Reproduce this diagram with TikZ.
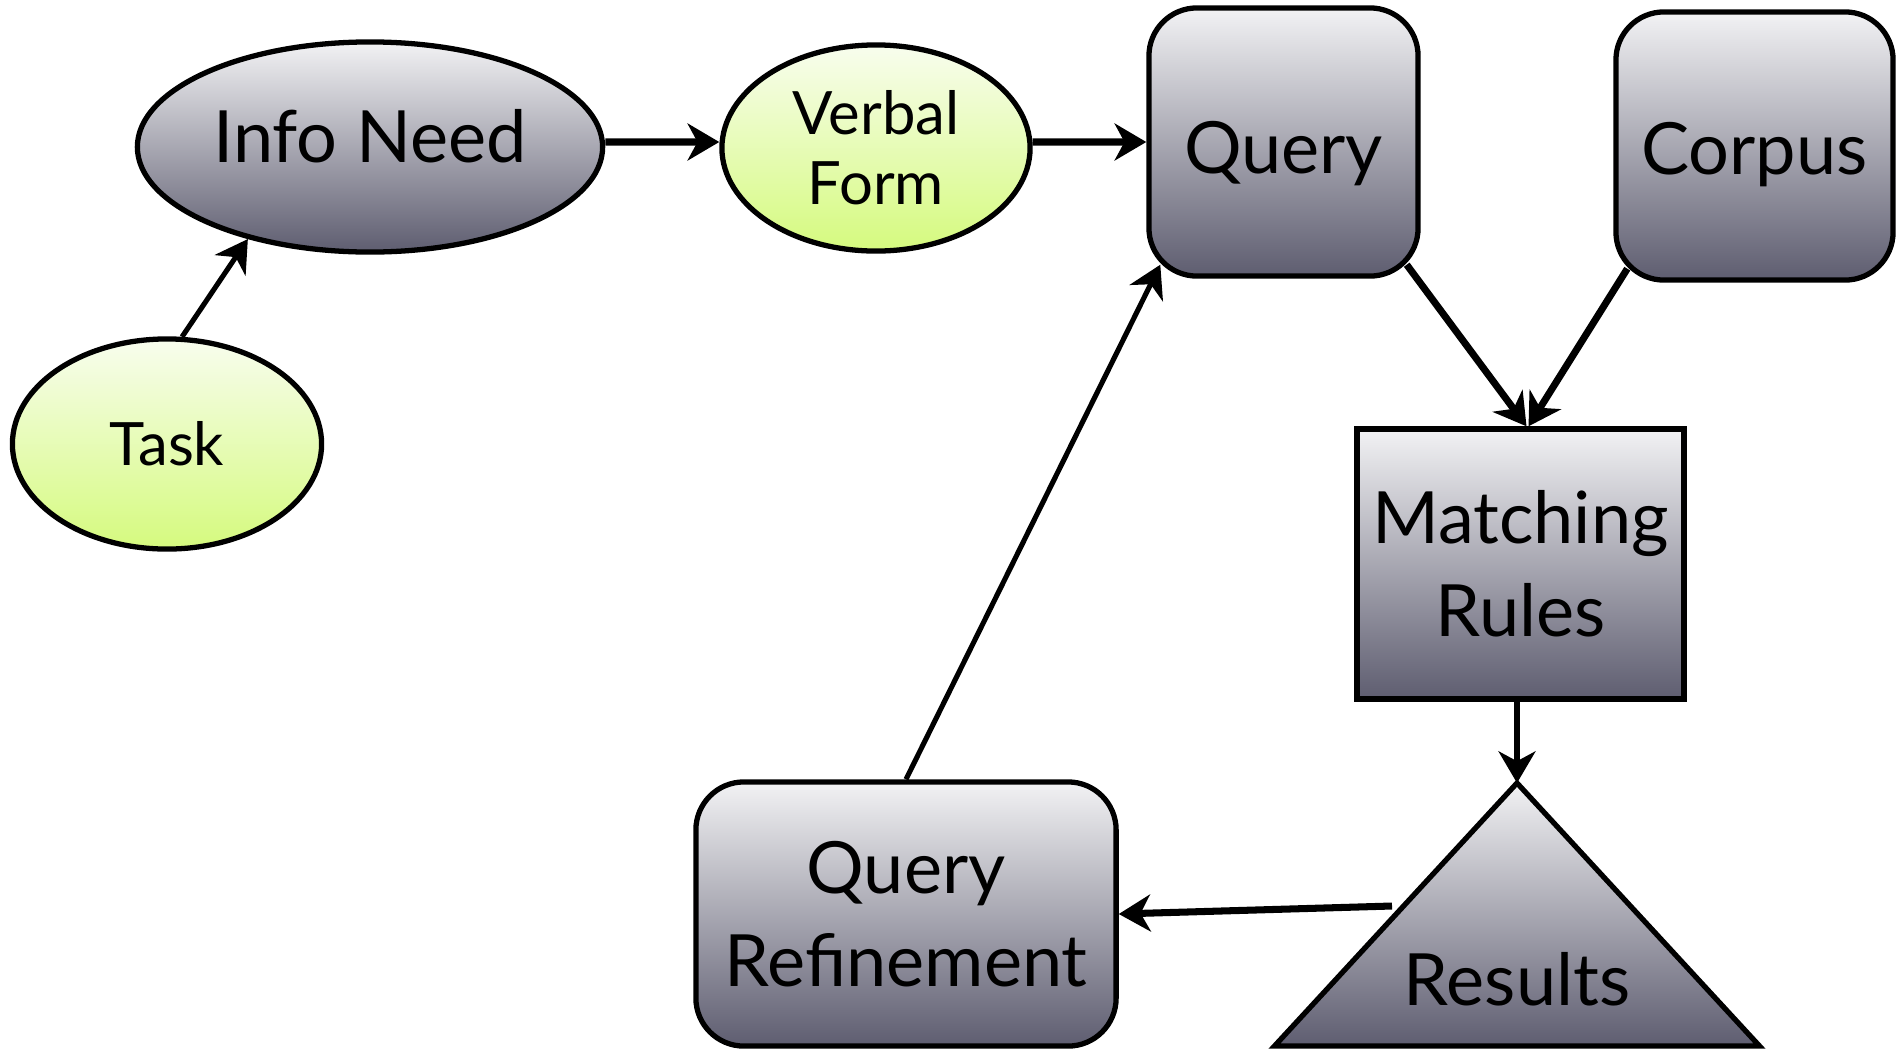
\documentclass[tikz,border=0pt]{standalone}
\usepackage{fontspec}
\setmainfont{Lato}
\usetikzlibrary{shapes.geometric,arrows.meta,calc}
\definecolor{gtop}{HTML}{F2F2F4}
\definecolor{gbot}{HTML}{5E5D70}
\definecolor{ytop}{HTML}{F8FDEE}
\definecolor{ybot}{HTML}{D5FA7E}
\begin{document}
\begin{tikzpicture}[x=0.01cm,y=-0.01cm,
  border/.style={draw=black,line width=1.5pt},
  grayfill/.style={top color=gtop,bottom color=gbot},
  greenfill/.style={top color=ytop,bottom color=ybot},
  bigtext/.style={font=\fontsize{20.5}{26.5}\selectfont,align=center,text=black},
  smalltext/.style={font=\fontsize{17}{20}\selectfont,align=center,text=black},
  ell/.style={ellipse,border,inner sep=0pt},
  rbox/.style={rectangle,border,rounded corners=0.48cm,inner sep=0pt,grayfill,bigtext},
  conn/.style={-{Stealth[length=9pt,width=10.5pt,inset=2.8pt]},line width=2pt},
  connthin/.style={conn,line width=1.45pt}]
\useasboundingbox (0,0) rectangle (1900,1048);
\clip (0,0) rectangle (1900,1048);

% nodes
\node[ell,greenfill,smalltext,minimum width=3.09cm,minimum height=2.10cm] (task) at (167,444) {Task};
\node[ell,grayfill,bigtext,minimum width=4.65cm,minimum height=2.10cm,text height=9pt,text depth=0pt] (info) at (370,147) {Info Need};
\node[ell,greenfill,smalltext,minimum width=3.08cm,minimum height=2.06cm] (verbal) at (876,148) {Verbal\\Form};
\node[rbox,minimum width=2.69cm,minimum height=2.68cm,text height=17.7pt,text depth=0pt] (query) at (1283.5,142) {Query};
\node[rbox,minimum width=2.77cm,minimum height=2.68cm,text height=16pt,text depth=0pt] (corpus) at (1754.5,146) {Corpus};
\node[rectangle,border,grayfill,bigtext,inner sep=0pt,minimum width=3.27cm,minimum height=2.70cm] (match) at (1520.5,564) {Matching\\Rules};
\node[rbox,minimum width=4.20cm,minimum height=2.64cm] (qr) at (906,914) {Query\\Refinement};

% results triangle
\coordinate (resapex) at (1517,783);
\coordinate (resbl) at (1274.5,1046);
\coordinate (resbr) at (1759.5,1046);
\path[border,grayfill] (resapex) -- (resbl) -- (resbr) -- cycle;
\node[bigtext] (res) at (1517,979) {Results};
\coordinate (resl) at (1392,906);

% connectors
\draw[connthin] (task.82) -- (info.217);
\draw[conn] ([yshift=0.05cm]info.east) -- ([yshift=0.06cm]verbal.west);
\draw[conn] ([yshift=0.06cm]verbal.east) -- (query.west);
\draw[conn] ([xshift=-0.14cm,yshift=0.14cm]query.south east) -- ([xshift=0.06cm]match.north);
\draw[conn] ([xshift=0.14cm,yshift=0.14cm]corpus.south west) -- ([xshift=0.08cm]match.north);
\draw[connthin] (match.south -| resapex) -- (resapex);
\draw[conn] (resl) -- (qr.east);
\draw[connthin] (qr.north) -- ([xshift=0.14cm,yshift=0.14cm]query.south west);
\end{tikzpicture}
\end{document}
